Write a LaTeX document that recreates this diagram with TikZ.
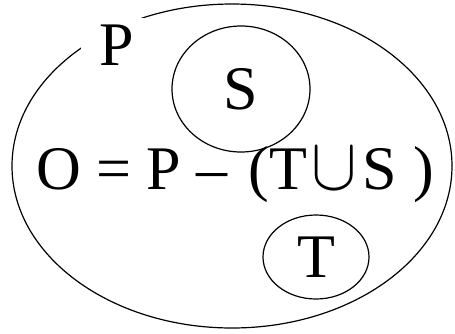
\documentclass[tikz,border=0pt]{standalone}
\usepackage{fix-cm}
\usepackage{fontspec}
\setmainfont{Liberation Serif}
\usetikzlibrary{shapes.geometric}

\newcommand{\bigcupsym}{\hspace{5pt}\scalebox{1.1}[1.2]{$\cup$}\hspace{5pt}}

\begin{document}
\begin{tikzpicture}[
    x=1pt, y=-1pt,
    set/.style={draw, ellipse, line width=1.2pt, inner sep=0pt, font=\fontsize{62pt}{70pt}\selectfont},
    lbl/.style={inner sep=0pt, font=\fontsize{62pt}{70pt}\selectfont}
]
    \useasboundingbox (0,0) rectangle (455,333);

    % outer set P
    \draw[line width=1.2pt] (232,166) ellipse [x radius=220pt, y radius=162pt];
    \node[lbl, fill=white, inner xsep=19pt, inner ysep=6pt, anchor=base] (p) at (117,65) {P};

    % inner sets
    \node[set, minimum width=138pt, minimum height=126pt] (s) at (241,89) {S};
    \node[set, minimum width=106pt, minimum height=84pt] (t) at (316,257) {T};

    \node[lbl, anchor=base west] (eq) at (36,189) {O = P – \hspace{5pt}(T\bigcupsym S\hspace{17pt})};
\end{tikzpicture}
\end{document}
